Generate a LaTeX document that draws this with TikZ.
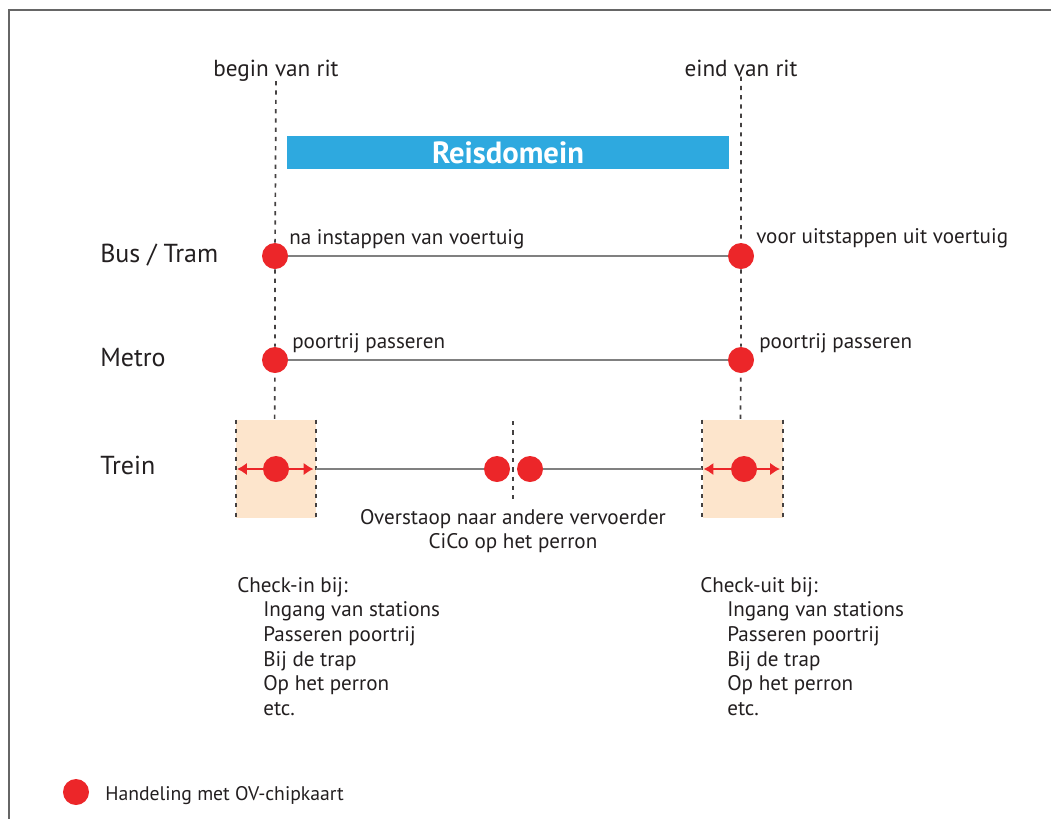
\documentclass[tikz,border=0pt]{standalone}
\usepackage{fontspec}
\setmainfont{PT Sans}
\usetikzlibrary{arrows.meta,positioning}
\definecolor{ovrood}{HTML}{EC2629}
\definecolor{reisblauw}{HTML}{2EA9DF}
\definecolor{perzik}{HTML}{FDE5CC}
\definecolor{inkt}{HTML}{231F20}
\def\ritfont{\fontsize{16.5}{20}\selectfont}
\def\tekstfont{\fontsize{15}{18}\selectfont}
\def\modusfont{\fontsize{18.5}{22}\selectfont}
\def\legendafont{\fontsize{14}{17}\selectfont}

\tikzset{
  chip/.style={circle,fill=ovrood,inner sep=0pt,minimum size=0.65cm},
  ritlijn/.style={draw=inkt!85,line width=1.2pt,dash pattern=on 3pt off 3.6pt},
  spoor/.style={draw=black!50,line width=0.8pt},
  perron/.style={fill=perzik,minimum width=2cm,minimum height=2.45cm,inner sep=0pt},
  pijl/.style={draw=ovrood,line width=1.6pt,{Latex[length=7pt,width=9pt]}-{Latex[length=7pt,width=9pt]}},
  tekst/.style={text=inkt,font=\tekstfont,inner sep=0pt},
  kader/.style={draw=black!60,line width=1.4pt}
}

\begin{document}
\begin{tikzpicture}[x=0.025cm,y=-0.025cm]
    \useasboundingbox (0,0) rectangle (1051,818);
    \draw[kader] (9,10) rectangle (1090,860);
    % begin en eind van rit
    \node[tekst,font=\ritfont,anchor=base] (begin) at (276,76) {begin van rit};
    \node[tekst,font=\ritfont,anchor=base] (eind) at (741,76) {eind van rit};
    \node[fill=reisblauw,minimum width=11.05cm,minimum height=0.825cm,inner sep=0pt,
          text=white,font=\fontsize{21.8}{26}\selectfont\bfseries] (reis) at (508,152.5) {Reisdomein};
    % modaliteiten
    \node[tekst,font=\modusfont,anchor=base west] (bus) at (100,262) {Bus / Tram};
    \node[tekst,font=\modusfont,anchor=base west] (metro) at (100,366) {Metro};
    \node[tekst,font=\modusfont,anchor=base west] (trein) at (100,474) {Trein};
    % perrons trein
    \node[perron] (inbox) at (276,469) {};
    \node[perron] (uitbox) at (742.5,469) {};
    \draw[ritlijn] (inbox.north west) -- (inbox.south west);
    \draw[ritlijn] (inbox.north east) -- (inbox.south east);
    \draw[ritlijn] (uitbox.north west) -- (uitbox.south west);
    \draw[ritlijn] (uitbox.north east) -- (uitbox.south east);
    \draw[pijl,shorten <=1pt,shorten >=2pt] (inbox.west) -- (inbox.east);
    \draw[pijl,shorten <=1pt,shorten >=2pt] (uitbox.west) -- (uitbox.east);
    % handelingen
    \node[chip] (bs) at (275,256) {};
    \node[chip] (be) at (741,256) {};
    \node[chip] (ms) at (275,360) {};
    \node[chip] (me) at (741,360) {};
    \node[chip] (ts) at (276,469) {};
    \node[chip] (te) at (744,469) {};
    \node[chip] (ov1) at (497,469) {};
    \node[chip] (ov2) at (530,469) {};
    \coordinate (ovtop) at (513,421);
    \coordinate (ovbot) at (513,499);
    % lijnen
    \draw[ritlijn,shorten <=3pt] (begin.south) -- (bs) -- (ms) -- ([xshift=-1] inbox.north);
    \draw[ritlijn,shorten <=3pt] (eind.south) -- (be) -- (me) -- ([xshift=-1.5] uitbox.north);
    \draw[ritlijn] (ovtop) -- (ovbot);
    \draw[spoor] (bs) -- (be);
    \draw[spoor] (ms) -- (me);
    \draw[spoor] (inbox.east) -- (ov1);
    \draw[spoor] (ov2) -- (uitbox.west);
    % teksten bij de handelingen
    \node[tekst,anchor=base west] (bstekst) at (289,244) {na instappen van voertuig};
    \node[tekst,anchor=base west] (betekst) at (756,243) {voor uitstappen uit voertuig};
    \node[tekst,anchor=base west] (mstekst) at (292,348) {poortrij passeren};
    \node[tekst,anchor=base west] (metekst) at (759,348) {poortrij passeren};
    \node[tekst,anchor=base] (ovtekst1) at (513,524) {Overstaop naar andere vervoerder};
    \node[tekst,anchor=base] (ovtekst2) at (513,548) {CiCo op het perron};
    % check-in en check-uit
    \node[tekst,anchor=base west] (checkin) at (237,592) {Check-in bij:};
    \node[tekst,anchor=base west] (checkuit) at (700,592) {Check-uit bij:};
    \foreach \regel [count=\i] in {Ingang van stations,Passeren poortrij,Bij de trap,Op het perron,etc.}{
      \node[tekst,anchor=base west] (in\i) at (263,592+24.7*\i) {\regel};
      \node[tekst,anchor=base west] (uit\i) at (727,592+24.7*\i) {\regel};
    }
    % legenda
    \node[chip] (legchip) at (76,792) {};
    \node[tekst,font=\legendafont,anchor=base west] (legtekst) at (105,800) {Handeling met OV-chipkaart};
\end{tikzpicture}
\end{document}
